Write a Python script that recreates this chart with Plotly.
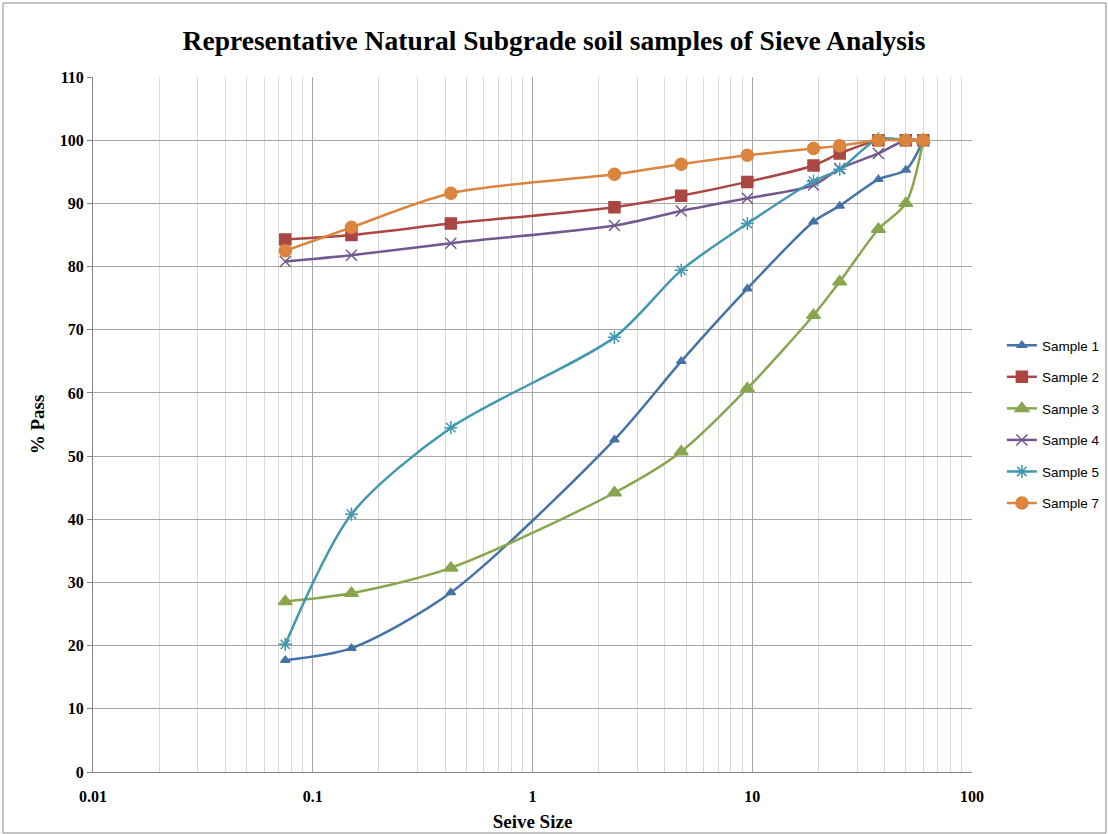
import plotly.graph_objects as go

sieve = [0.075, 0.15, 0.425, 2.36, 4.75, 9.5, 19, 25, 37.5, 50, 60]

sample1 = [17.7, 19.6, 28.4, 52.6, 65.0, 76.5, 87.1, 89.6, 93.8, 95.3, 100]
sample2 = [84.3, 85.0, 86.8, 89.4, 91.2, 93.4, 96.0, 97.9, 100, 100, 100]
sample3 = [27.0, 28.3, 32.3, 44.2, 50.7, 60.7, 72.3, 77.6, 85.9, 90.0, 100]
sample4 = [80.8, 81.8, 83.7, 86.5, 88.8, 90.8, 92.9, 95.5, 97.9, 100, 100]
sample5 = [20.2, 40.8, 54.5, 68.8, 79.4, 86.8, 93.5, 95.4, 100.2, 100, 100]
sample7 = [82.5, 86.2, 91.6, 94.6, 96.2, 97.6, 98.7, 99.1, 100, 100, 100]

names = ["Sample 1", "Sample 2", "Sample 3", "Sample 4", "Sample 5", "Sample 7"]
series = [sample1, sample2, sample3, sample4, sample5, sample7]
colors = ["#4572A7", "#AA4643", "#89A54E", "#71588F", "#4198AF", "#DB843D"]
symbols = ["triangle-up", "square", "triangle-up", "x-thin-open", "asterisk-open", "circle"]
sizes = [8, 11, 12, 11, 11, 12]

fig = go.Figure()
for i, (n, s) in enumerate(zip(names, series)):
    fig.add_trace(go.Scatter(
        x=sieve, y=s, name=n, mode="lines+markers",
        line=dict(color=colors[i], width=2.5, shape="spline", smoothing=0.8),
        marker=dict(symbol=symbols[i], size=sizes[i], color=colors[i],
                    line=dict(color=colors[i], width=1.5)),
        legendgroup=n,
    ))

fig.update_layout(
    width=1108, height=834,
    margin=dict(l=93, r=136, t=77, b=62, autoexpand=False),
    paper_bgcolor="white", plot_bgcolor="white",
    title=dict(text="<b>Representative Natural Subgrade soil samples of Sieve Analysis</b>",
               x=0.5, xanchor="center", y=0.951, yanchor="middle",
               font=dict(family="Liberation Serif", size=27.5, color="black")),
    legend=dict(x=1.034, xanchor="left", y=0.5, yanchor="middle",
                font=dict(family="Liberation Sans", size=13.5, color="black"),
                tracegroupgap=11, traceorder="grouped", bgcolor="rgba(0,0,0,0)"),
    showlegend=True,
)

fig.update_xaxes(
    type="log", range=[-2, 2],
    tickvals=[0.01, 0.1, 1, 10, 100], ticktext=["0.01", "0.1", "1", "10", "100"],
    tickfont=dict(family="Liberation Serif", size=16, color="black", weight="bold"),
    ticklabelstandoff=10,
    showgrid=True, gridcolor="#A6A6A6", gridwidth=1,
    minor=dict(showgrid=True, gridcolor="#D9D9D9", gridwidth=1,
               tickvals=[a * b for a in [0.01, 0.1, 1, 10] for b in range(2, 10)]),
    showline=True, linecolor="#868686", linewidth=1,
    ticks="", zeroline=False,
    title=dict(text="<b>Seive Size</b>", font=dict(family="Liberation Serif", size=19, color="black"), standoff=10),
)
fig.update_yaxes(
    range=[0, 110], dtick=10,
    tickfont=dict(family="Liberation Serif", size=16, color="black", weight="bold"),
    showgrid=True, gridcolor="#A6A6A6", gridwidth=1,
    showline=True, linecolor="#868686", linewidth=1,
    ticks="outside", ticklen=5, tickcolor="#868686", zeroline=False,
    title=dict(text="<b>% Pass</b>", font=dict(family="Liberation Serif", size=19, color="black"), standoff=10),
)

# outer chart border
pw, ph = 1108 - 93 - 136, 834 - 77 - 62
fig.add_shape(type="rect", xref="paper", yref="paper",
              x0=(3 - 93) / pw, x1=(1106 - 93) / pw,
              y0=(772 - 833) / ph, y1=(772 - 3) / ph,
              line=dict(color="#868686", width=1), fillcolor="rgba(0,0,0,0)", layer="below")

fig.write_html("out.html")
